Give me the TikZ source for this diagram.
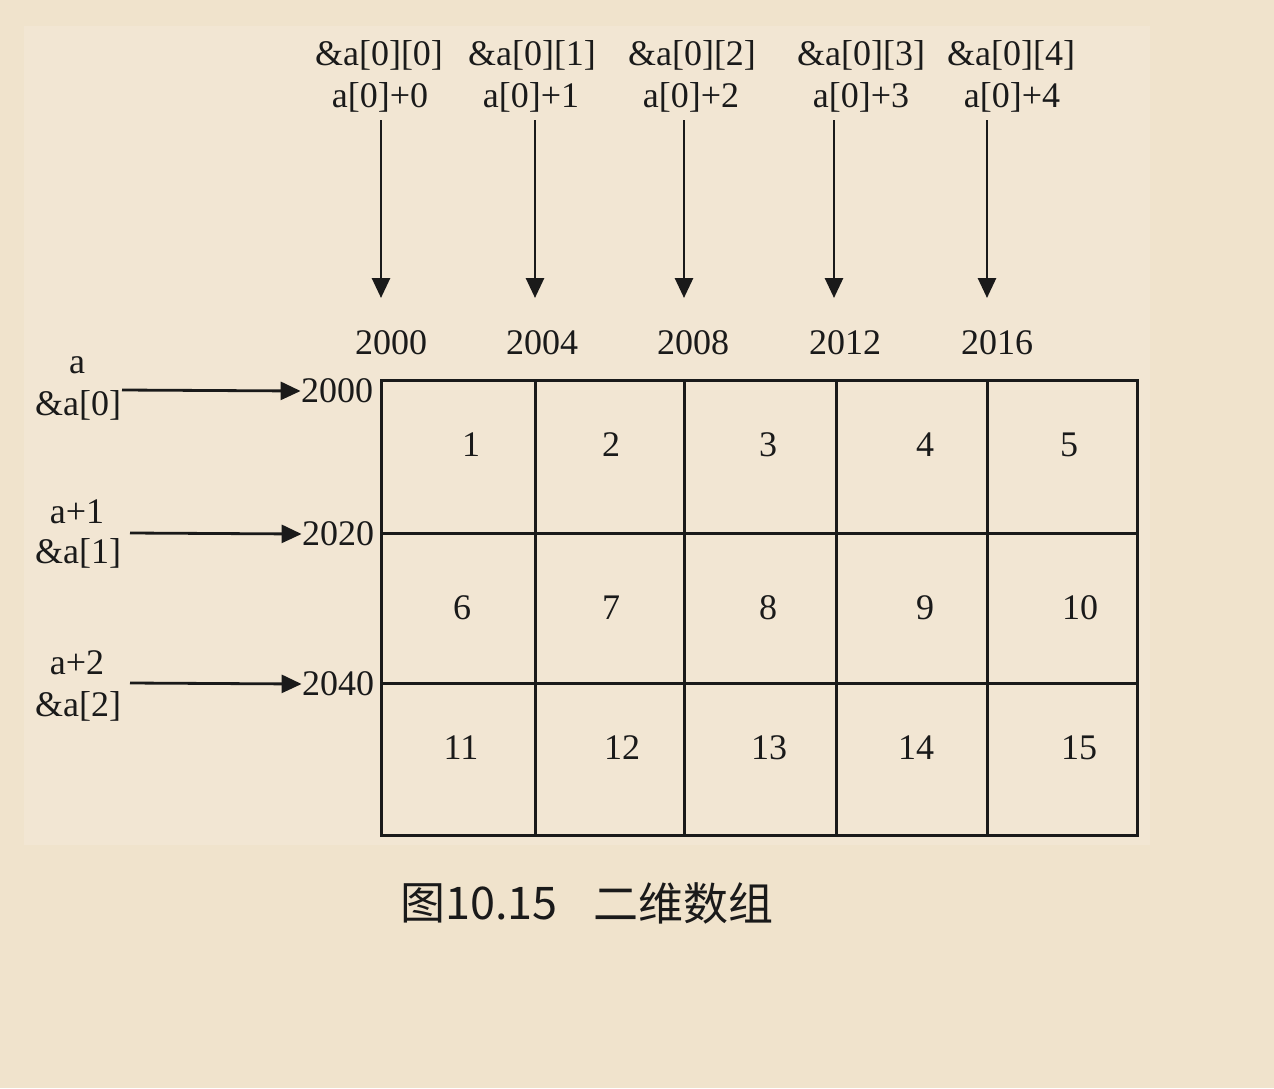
\documentclass[tikz,border=0pt]{standalone}
\usepackage{fontspec}
\setmainfont{Liberation Serif}
\newfontfamily\cjk{Noto Sans CJK SC}
\usetikzlibrary{arrows.meta}
\definecolor{bgout}{HTML}{F0E3CC}
\definecolor{bgin}{HTML}{F2E6D3}
\definecolor{ink}{HTML}{1A1A1A}
\tikzset{
  lbl/.style={inner sep=0pt, text=ink, font=\fontsize{18}{20}\selectfont},
  captxt/.style={inner sep=0pt, text=ink, anchor=west, font=\cjk\fontsize{22.5}{24}\selectfont},
  ptr/.style={draw=ink, line width=1.4pt, -{Triangle[length=10pt,width=9pt]}},
  gridln/.style={draw=ink, line width=1.5pt}
}
\begin{document}
\begin{tikzpicture}[x=0.5pt,y=-0.5pt]
\useasboundingbox (0,0) rectangle (1274,1088);
\fill[bgout] (0,0) rectangle (1274,1088);
\fill[bgin] (24,26) rectangle (1150,845);
% grid
\draw[gridln] (381,380) rectangle (1137,835);
\foreach \x in {535,684,836,987} \draw[gridln] (\x,380) -- (\x,835);
\foreach \y in {533,683} \draw[gridln] (381,\y) -- (1137,\y);
% top labels
\node[lbl] (t0a) at (379,55) {\&a[0][0]};
\node[lbl] (t0b) at (380,97) {a[0]+0};
\node[lbl] (t1a) at (532,55) {\&a[0][1]};
\node[lbl] (t1b) at (531,97) {a[0]+1};
\node[lbl] (t2a) at (692,55) {\&a[0][2]};
\node[lbl] (t2b) at (691,97) {a[0]+2};
\node[lbl] (t3a) at (861,55) {\&a[0][3]};
\node[lbl] (t3b) at (861,97) {a[0]+3};
\node[lbl] (t4a) at (1011,55) {\&a[0][4]};
\node[lbl] (t4b) at (1012,97) {a[0]+4};
% vertical arrow endpoints
\coordinate (s0) at (381,120); \coordinate (e0) at (381,298);
\coordinate (s1) at (535,120); \coordinate (e1) at (535,298);
\coordinate (s2) at (684,120); \coordinate (e2) at (684,298);
\coordinate (s3) at (834,120); \coordinate (e3) at (834,298);
\coordinate (s4) at (987,120); \coordinate (e4) at (987,298);
\foreach \i in {0,...,4} \draw[ptr] (s\i) -- (e\i);
% addresses
\node[lbl] (n0) at (391,343) {2000};
\node[lbl] (n1) at (542,343) {2004};
\node[lbl] (n2) at (693,343) {2008};
\node[lbl] (n3) at (845,343) {2012};
\node[lbl] (n4) at (997,343) {2016};
% left labels
\node[lbl] (la) at (77,365) {a};
\node[lbl] (lb) at (78,405) {\&a[0]};
\node[lbl] (lc) at (77,512) {a+1};
\node[lbl] (ld) at (78,553) {\&a[1]};
\node[lbl] (le) at (77,663) {a+2};
\node[lbl] (lf) at (78,706) {\&a[2]};
\node[lbl] (r0) at (337,391) {2000};
\node[lbl] (r1) at (338,534) {2020};
\node[lbl] (r2) at (338,684) {2040};
\coordinate (h0) at (122,390);
\coordinate (h1) at (130,533);
\coordinate (h2) at (130,683);
\draw[ptr] (h0) -- (r0.west);
\draw[ptr] (h1) -- (r1.west);
\draw[ptr] (h2) -- (r2.west);
% cells
\node[lbl] (c1) at (471,445) {1};
\node[lbl] (c2) at (611,445) {2};
\node[lbl] (c3) at (768,445) {3};
\node[lbl] (c4) at (925,445) {4};
\node[lbl] (c5) at (1069,445) {5};
\node[lbl] (c6) at (462,608) {6};
\node[lbl] (c7) at (611,608) {7};
\node[lbl] (c8) at (768,608) {8};
\node[lbl] (c9) at (925,608) {9};
\node[lbl] (c10) at (1080,608) {10};
\node[lbl] (c11) at (461,748) {11};
\node[lbl] (c12) at (622,748) {12};
\node[lbl] (c13) at (769,748) {13};
\node[lbl] (c14) at (916,748) {14};
\node[lbl] (c15) at (1079,748) {15};
% caption
\node[captxt] (cap1) at (400,903) {图10.15};
\node[captxt] (cap2) at (593,903) {二维数组};
\end{tikzpicture}
\end{document}
